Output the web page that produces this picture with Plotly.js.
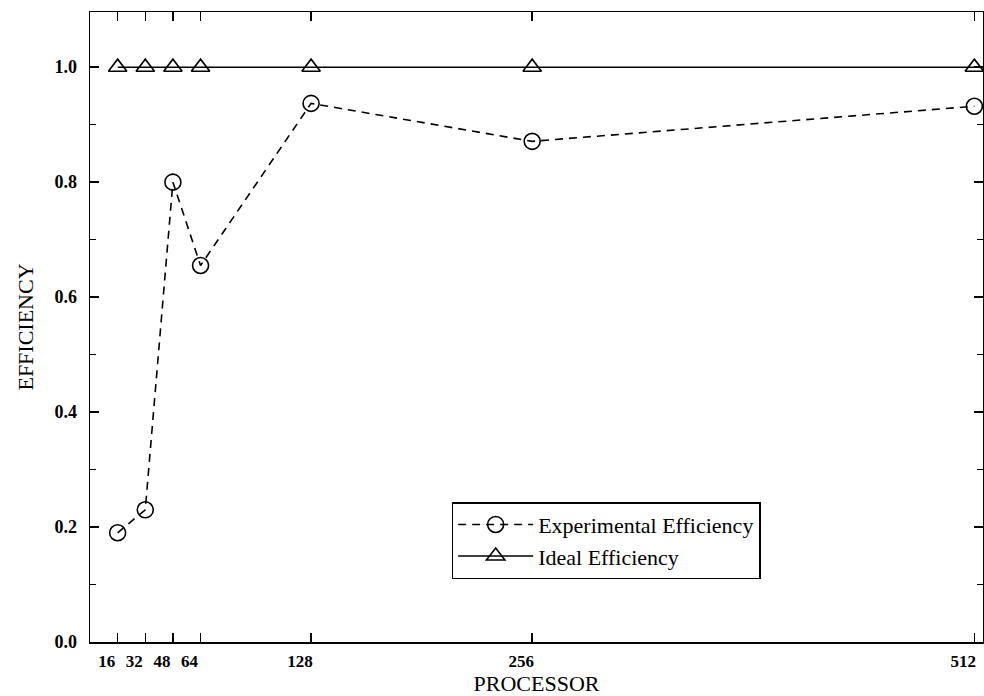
<!DOCTYPE html>
<html>
<head>
<meta charset="utf-8">
<script src="https://cdn.plot.ly/plotly-3.0.1.min.js"></script>
<style>html,body{margin:0;padding:0;background:#fff;}#chart{width:984px;height:696px;}</style>
</head>
<body>
<div id="chart"></div>
<script>
const processors = [16, 32, 48, 64, 128, 256, 512];
const experimentalEfficiency = [0.19, 0.23, 0.80, 0.655, 0.937, 0.871, 0.932];
const idealEfficiency = [1.0, 1.0, 1.0, 1.0, 1.0, 1.0, 1.0];
const xTickLabels = ['16', '32', '48', '64', '128', '256', '512'];
const yTickVals = [0, 0.2, 0.4, 0.6, 0.8, 1.0];
const yTickLabels = ['0.0', '0.2', '0.4', '0.6', '0.8', '1.0'];
const yMinorVals = [0.1, 0.3, 0.5, 0.7, 0.9];

const serif = '"Liberation Serif", "Times New Roman", serif';

const traces = [
  {
    x: processors, y: experimentalEfficiency, name: 'Experimental Efficiency',
    type: 'scatter', mode: 'lines+markers',
    line: {color: '#000', width: 1.6, dash: '8px,6px'},
    marker: {symbol: 'circle-open', size: 16, color: '#000', line: {color: '#000', width: 1.6}}
  },
  {
    x: processors, y: idealEfficiency, name: 'Ideal Efficiency',
    type: 'scatter', mode: 'lines+markers',
    line: {color: '#000', width: 1.4},
    marker: {symbol: 'triangle-up-open', size: 16, color: '#000', line: {color: '#000', width: 1.6}}
  }
];

const layout = {
  width: 984, height: 696,
  margin: {l: 90, r: 1, t: 12, b: 54},
  paper_bgcolor: '#fff', plot_bgcolor: '#fff',
  font: {family: serif, color: '#000'},
  showlegend: true,
  legend: {
    x: 0.405, y: 0.222, xanchor: 'left', yanchor: 'top',
    bgcolor: '#fff', bordercolor: '#000', borderwidth: 1.5,
    font: {family: serif, size: 22, color: '#000'},
    tracegroupgap: 0, itemwidth: 75
  },
  xaxis: {
    range: [0, 517],
    tickmode: 'array', tickvals: processors, ticktext: xTickLabels,
    ticks: 'inside', ticklen: 9, tickwidth: 1.4, tickcolor: '#000',
    showline: true, linecolor: '#000', linewidth: 1.5, mirror: 'allticks',
    showgrid: false, zeroline: false,
    tickfont: {family: serif, size: 17, color: '#000', weight: 'bold'},
    ticklabelshift: -11, ticklabelstandoff: 3,
    title: {text: 'PROCESSOR', font: {family: serif, size: 22, color: '#000'}, standoff: 4},
    automargin: false
  },
  yaxis: {
    range: [0, 1.096],
    tickmode: 'array', tickvals: yTickVals, ticktext: yTickLabels,
    ticks: 'inside', ticklen: 9, tickwidth: 1.4, tickcolor: '#000',
    minor: {tickvals: yMinorVals, ticks: 'inside', ticklen: 6, tickwidth: 1.2, tickcolor: '#000', showgrid: false},
    showline: true, linecolor: '#000', linewidth: 1.5, mirror: 'allticks',
    showgrid: false, zeroline: false,
    tickfont: {family: serif, size: 18, color: '#000', weight: 'bold'},
    ticklabelstandoff: 8,
    title: {text: 'EFFICIENCY', font: {family: serif, size: 22, color: '#000'}, standoff: 14},
    automargin: false
  }
};

Plotly.newPlot('chart', traces, layout, {displayModeBar: false, staticPlot: true});
</script>
</body>
</html>
